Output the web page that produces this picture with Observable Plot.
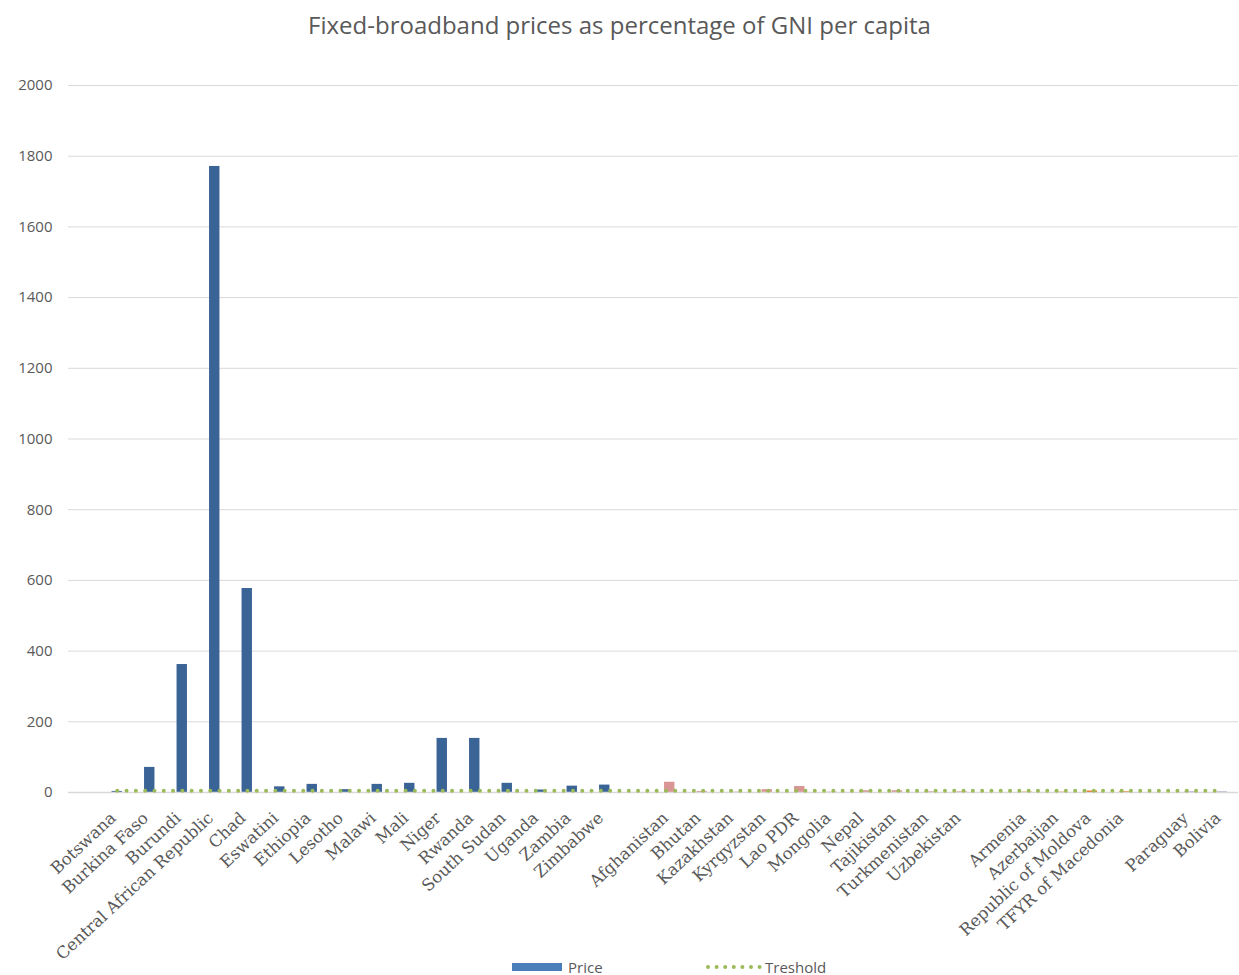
<!DOCTYPE html>
<html><head><meta charset="utf-8">
<script src="https://cdn.jsdelivr.net/npm/d3@7"></script>
<script src="https://cdn.jsdelivr.net/npm/@observablehq/plot@0.6"></script>
<style>
html,body{margin:0;background:#fff;width:1239px;height:975px;}
#wrap{position:relative;width:1239px;height:975px;}
#title{height:50px;line-height:50px;text-align:center;font-family:"Open Sans",sans-serif;font-size:24px;color:#595959;}
#legend{position:absolute;left:0;top:957px;width:1239px;height:20px;font-family:"Open Sans",sans-serif;font-size:15px;color:#595959;z-index:2;}
#legend .sw{position:absolute;top:6px;width:50px;height:8px;background:#4a7ebb;}
#legend .dots{position:absolute;top:3px;}
#legend .lab{position:absolute;top:0;line-height:20px;}
</style></head><body>
<div id="wrap">
<div id="title">Fixed-broadband prices as percentage of GNI per capita</div>
<div id="chart"></div>
<div id="legend">
  <div class="sw" style="left:512px"></div><div class="lab" style="left:568px">Price</div>
  <svg class="dots" style="left:705px" width="58" height="14"><line x1="3" x2="55" y1="7" y2="7" stroke="#9bbb59" stroke-width="4" stroke-linecap="round" stroke-dasharray="0,8.6"/></svg>
  <div class="lab" style="left:765px">Treshold</div>
</div>
</div>
<script>
const africa = ["Botswana","Burkina Faso","Burundi","Central African Republic","Chad","Eswatini","Ethiopia","Lesotho","Malawi","Mali","Niger","Rwanda","South Sudan","Uganda","Zambia","Zimbabwe"];
const africaPrice = [3,71,362,1771,577,16,23,8,23,26,153,153,26,7,18,21];
const asia = ["Afghanistan","Bhutan","Kazakhstan","Kyrgyzstan","Lao PDR","Mongolia","Nepal","Tajikistan","Turkmenistan","Uzbekistan"];
const asiaPrice = [29,3,1,8,17,1,5,5,2,2];
const europe = ["Armenia","Azerbaijan","Republic of Moldova","TFYR of Macedonia"];
const europePrice = [1,1,4,2];
const latam = ["Paraguay","Bolivia"];
const latamPrice = [2,2];
const gaps = ["_gap0","_gap1","_gap2","_gap3"];
const categories = [gaps[0], ...africa, gaps[1], ...asia, gaps[2], ...europe, gaps[3], ...latam];
const thresholdCats = [...africa, gaps[1], ...asia, gaps[2], ...europe, gaps[3], ...latam];
const thresholdValues = [5,5,5,5,5,5,5,5,5,5,5,5,5,5,5,5,5,5,5,5,5,5,5,5,5,5,5,5,5,5,5,5,5,5,5];
const regions = ["Africa","Asia","Europe","Latin America"];
const regionColors = ["#3a6396","#d99694","#e46c0a","#b3a2c7"];
const yTicks = [0,200,400,600,800,1000,1200,1400,1600,1800,2000];

const priceTable = [
  ...africa.map((c,i)=>({country:c, price:africaPrice[i], region:"Africa"})),
  ...asia.map((c,i)=>({country:c, price:asiaPrice[i], region:"Asia"})),
  ...europe.map((c,i)=>({country:c, price:europePrice[i], region:"Europe"})),
  ...latam.map((c,i)=>({country:c, price:latamPrice[i], region:"Latin America"}))
];
const thresholdTable = thresholdCats.map((c,i)=>({country:c, value:thresholdValues[i]}));

const chart = Plot.plot({
  width:1239, height:920,
  marginLeft:68, marginRight:1, marginTop:35, marginBottom:178,
  style:{fontFamily:"Open Sans, sans-serif", color:"#595959", background:"transparent"},
  x:{domain:categories, paddingInner:0.68, paddingOuter:0.34, round:false, label:null},
  y:{domain:[0,2000], label:null},
  color:{domain:regions, range:regionColors},
  marks:[
    Plot.gridY(yTicks, {stroke:"#d9d9d9", strokeOpacity:1, strokeWidth:1}),
    Plot.barY(priceTable, {x:"country", y:"price", fill:"region"}),
    Plot.ruleY([0], {stroke:"#d9d9d9", strokeWidth:1.5}),
    Plot.lineY(thresholdTable, {x:"country", y:"value", stroke:"#9bbb59", strokeWidth:4, strokeDasharray:"0,9.3", strokeLinecap:"round"}),
    Plot.axisY(yTicks, {tickSize:0, tickPadding:16, fontSize:15, label:null, fill:"#595959", tickFormat: d => String(d)}),
    Plot.axisX({tickRotate:-43, tickSize:0, tickPadding:23, dx:-4, fontSize:16.5, fontFamily:"DejaVu Serif", fill:"#595959", label:null,
      tickFormat: d => d.startsWith("_gap") ? "" : d})
  ]
});
document.getElementById("chart").appendChild(chart);
</script>
</body></html>
